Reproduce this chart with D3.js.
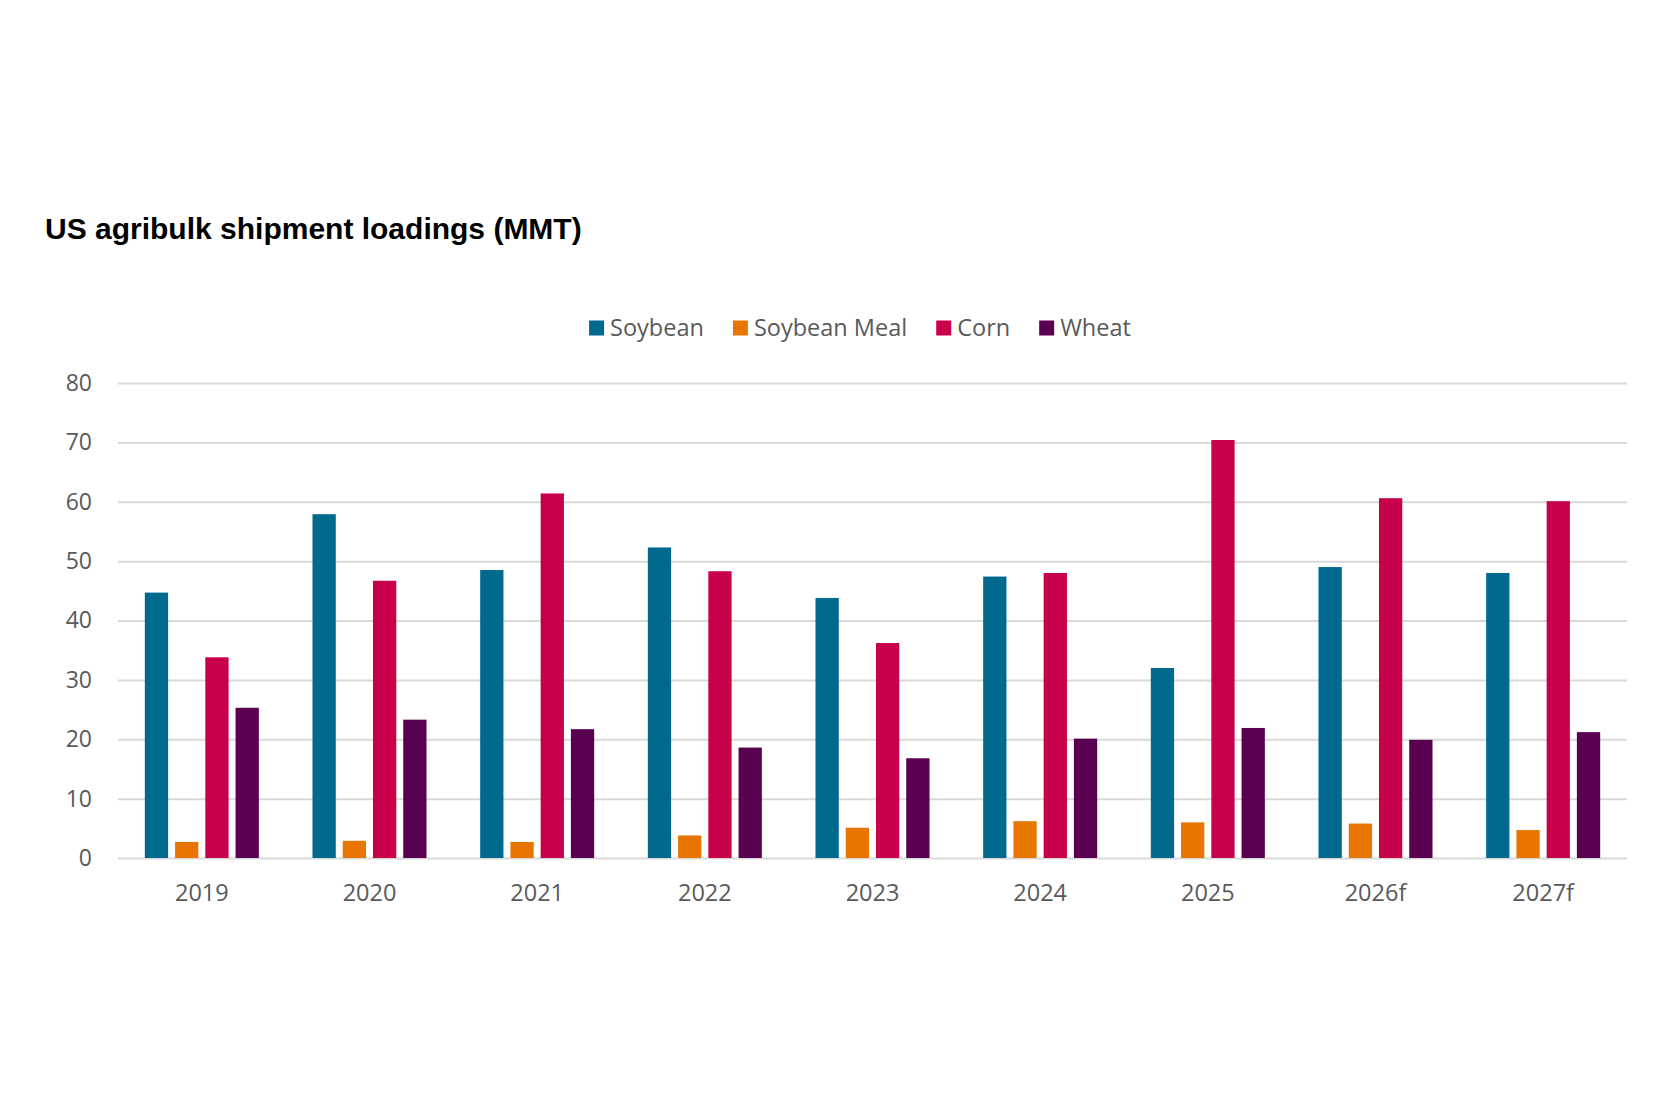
<!DOCTYPE html>
<html>
<head>
<meta charset="utf-8">
<script src="https://cdn.jsdelivr.net/npm/d3@7"></script>
<style>
  html, body { margin: 0; padding: 0; background: #ffffff; }
  svg { display: block; }
</style>
</head>
<body>
<svg id="chart" width="1680" height="1120"></svg>
<script>
const categories = ["2019", "2020", "2021", "2022", "2023", "2024", "2025", "2026f", "2027f"];
const seriesNames = ["Soybean", "Soybean Meal", "Corn", "Wheat"];
const soybean     = [44.7, 57.9, 48.5, 52.3, 43.8, 47.4, 32.0, 49.0, 48.0];
const soybeanMeal = [2.7, 2.9, 2.7, 3.8, 5.1, 6.2, 6.0, 5.8, 4.7];
const corn        = [33.8, 46.7, 61.4, 48.3, 36.2, 48.0, 70.4, 60.6, 60.1];
const wheat       = [25.3, 23.3, 21.7, 18.6, 16.8, 20.1, 21.9, 19.9, 21.2];
const yTicks = [0, 10, 20, 30, 40, 50, 60, 70, 80];
const colors = ["#006a8e", "#e87500", "#c8004b", "#5a0050"];

const seriesValues = [soybean, soybeanMeal, corn, wheat];
const rows = categories.map((c, i) => ({
  cat: c,
  vals: seriesNames.map((s, j) => ({ key: s, value: seriesValues[j][i], idx: j }))
}));

const svg = d3.select("#chart");
const plotLeft = 118, plotRight = 1627, plotTop = 383, plotBottom = 858;
const labelFont = "'Open Sans', sans-serif";

const x0 = d3.scaleBand().domain(categories).range([plotLeft, plotRight]).paddingInner(0.32).paddingOuter(0.16);
const x1 = d3.scaleBand().domain(seriesNames).range([0, x0.bandwidth()]).paddingInner(0.23).paddingOuter(0);
const y = d3.scaleLinear().domain([0, 80]).range([plotBottom, plotTop]);
const color = d3.scaleOrdinal().domain(seriesNames).range(colors);

// Title
svg.append("text")
  .attr("x", 45).attr("y", 239)
  .attr("font-family", "'Liberation Sans', Arial, sans-serif")
  .attr("font-weight", "bold")
  .attr("font-size", 30)
  .attr("fill", "#000")
  .text("US agribulk shipment loadings (MMT)");

// Gridlines + y labels
const yAxis = d3.axisLeft(y).tickValues(yTicks).tickSize(-(plotRight - plotLeft)).tickPadding(26);
const gy = svg.append("g").attr("transform", `translate(${plotLeft},0)`).call(yAxis);
gy.select(".domain").remove();
gy.selectAll(".tick line").attr("stroke", "#d9d9d9").attr("stroke-width", 2);
gy.selectAll(".tick text")
  .attr("font-family", labelFont)
  .attr("font-size", 23)
  .attr("fill", "#595959");

// Bars
const groups = svg.append("g").selectAll("g").data(rows).join("g")
  .attr("transform", d => `translate(${x0(d.cat)},0)`);
groups.selectAll("rect").data(d => d.vals).join("rect")
  .attr("x", d => x1(d.key))
  .attr("width", x1.bandwidth())
  .attr("y", d => y(d.value))
  .attr("height", d => y(0) - y(d.value))
  .attr("fill", d => color(d.key));

// X axis labels
const xAxis = d3.axisBottom(x0).tickSize(0).tickPadding(26);
const gx = svg.append("g").attr("transform", `translate(0,${plotBottom})`).call(xAxis);
gx.select(".domain").remove();
gx.selectAll(".tick text")
  .attr("font-family", labelFont)
  .attr("font-size", 23.5)
  .attr("fill", "#595959");

// Legend
const legend = svg.append("g");
const legendY = 328;
const sw = 15, gapText = 6, gapItem = 29;
const items = legend.selectAll("g").data(seriesNames).join("g");
items.append("rect").attr("width", sw).attr("height", sw).attr("y", legendY - sw / 2)
  .attr("fill", d => color(d));
items.append("text").attr("x", sw + gapText).attr("y", legendY).attr("dy", "0.35em")
  .attr("font-family", labelFont)
  .attr("font-size", 23.5)
  .attr("fill", "#595959")
  .text(d => d);
let widths = [];
items.each(function() { widths.push(this.getBBox().width); });
const total = d3.sum(widths) + gapItem * (widths.length - 1);
let cx = 860 - total / 2;
items.attr("transform", (d, i) => {
  const t = `translate(${cx},0)`;
  cx += widths[i] + gapItem;
  return t;
});
</script>
</body>
</html>
